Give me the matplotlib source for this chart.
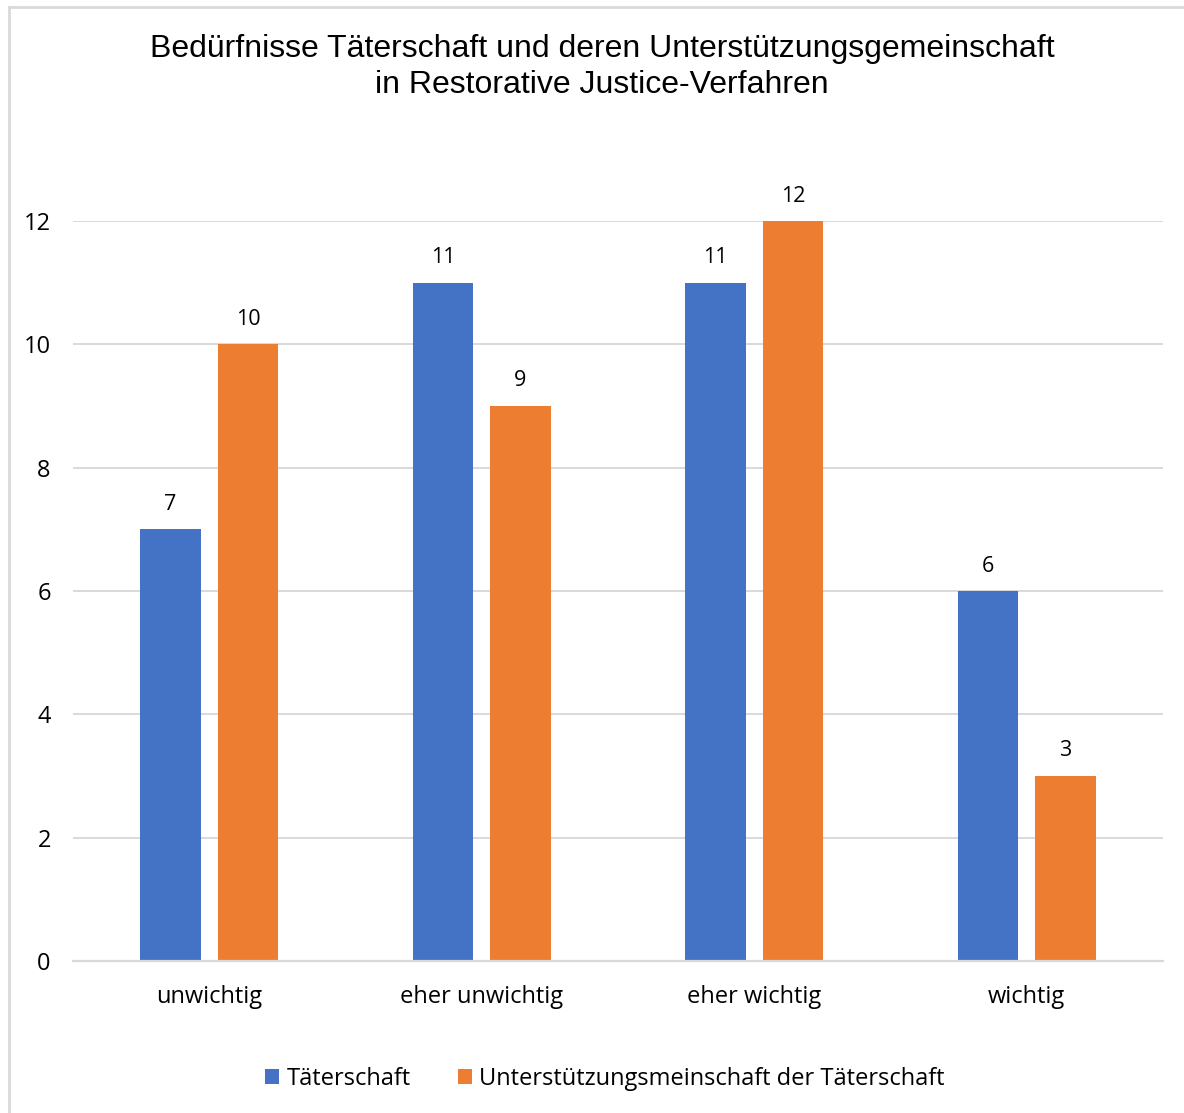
import matplotlib
matplotlib.use('Agg')
import numpy as np
from matplotlib import pyplot as plt
from matplotlib.lines import Line2D

categories = ['unwichtig', 'eher unwichtig', 'eher wichtig', 'wichtig']
taeterschaft = [7, 11, 11, 6]
unterstuetzung = [10, 9, 12, 3]
series_names = ['Täterschaft', 'Unterstützungsmeinschaft der Täterschaft']
yticks = [0, 2, 4, 6, 8, 10, 12]
title = ('Bedürfnisse Täterschaft und deren Unterstützungsgemeinschaft\n'
         'in Restorative Justice-Verfahren')

BLUE = '#4472c4'
ORANGE = '#ed7d31'
GRID = '#d9d9d9'
TEXT = '#000000'
body_font = ['Open Sans', 'DejaVu Sans']
title_font = ['Liberation Sans', 'DejaVu Sans']

fig = plt.figure(figsize=(11.84, 11.13), dpi=100)
W, H = 1184, 1113
ax = fig.add_axes([73 / W, 1 - 961 / H, (1163 - 73) / W, (961 - 221) / H])

x = np.arange(len(categories))
width = 0.223
offset = 0.142
b1 = ax.bar(x - offset, taeterschaft, width, color=BLUE, label=series_names[0], zorder=3)
b2 = ax.bar(x + offset, unterstuetzung, width, color=ORANGE, label=series_names[1], zorder=3)

for bars, vals in ((b1, taeterschaft), (b2, unterstuetzung)):
  for rect, v in zip(bars, vals):
    ax.annotate(str(v), (rect.get_x() + rect.get_width() / 2, v),
                xytext=(0, 18), textcoords='offset points', ha='center', va='center',
                fontsize=15.5, family=body_font, color=TEXT, clip_on=False)

ax.set_xlim(-0.5, 3.5)
ax.set_ylim(0, 12)
ax.set_yticks(yticks)
ax.set_yticklabels([str(t) for t in yticks], family=body_font, fontsize=17)
ax.set_xticks(x)
ax.set_xticklabels(categories, family=body_font, fontsize=17)
ax.tick_params(axis='y', length=0, pad=16)
ax.tick_params(axis='x', length=0, pad=17.5)
ax.yaxis.grid(True, color=GRID, linewidth=1.4, zorder=0)
for side in ('left', 'right', 'top'):
  ax.spines[side].set_visible(False)
ax.spines['bottom'].set_color(GRID)
ax.spines['bottom'].set_linewidth(1.6)
ax.spines['bottom'].set_zorder(4)

fig.text(602 / W, 1 - 67 / H, title, ha='center', va='center', fontsize=23,
         family=title_font, linespacing=1.3)

# outer chart frame (left and top edges only)
fig.add_artist(Line2D([9 / W, 9 / W], [0, 1 - 7 / H], color=GRID, linewidth=2,
                      transform=fig.transFigure))
fig.add_artist(Line2D([9 / W, 1], [1 - 7 / H, 1 - 7 / H], color=GRID, linewidth=2,
                      transform=fig.transFigure))

fig.legend(handles=[b1, b2], loc='center', bbox_to_anchor=(605 / W, 1 - 1079 / H),
           ncol=2, frameon=False, prop={'family': body_font, 'size': 17},
           handlelength=0.6, handleheight=0.6, handletextpad=0.3, columnspacing=2.0)

fig.savefig('out.png', dpi=100)
